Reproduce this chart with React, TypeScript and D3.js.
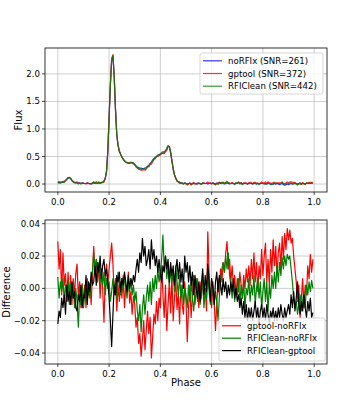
import React from "react";
import * as d3 from "d3";

// profile values, one per phase bin (200 bins over 0..1)
const noRFIx = [
  0.02, 0.03, 0.02, 0.03, 0.03, 0.04, 0.06, 0.09, 0.11, 0.12,
  0.10, 0.07, 0.04, 0.03, 0.02, 0.03, 0.02, 0.02, 0.01, 0.02,
  0.02, 0.01, 0.01, 0.02, 0.01, 0.01, 0.00, 0.01, 0.02, 0.01,
  0.02, 0.01, 0.02, 0.02, 0.02, 0.03, 0.05, 0.10, 0.22, 0.60,
  1.20, 1.80, 2.25, 2.33, 1.95, 1.35, 0.90, 0.70, 0.60, 0.54,
  0.49, 0.45, 0.42, 0.40, 0.39, 0.38, 0.38, 0.39, 0.39, 0.38,
  0.36, 0.33, 0.31, 0.30, 0.29, 0.29, 0.28, 0.28, 0.29, 0.30,
  0.32, 0.34, 0.37, 0.40, 0.43, 0.46, 0.48, 0.50, 0.52, 0.53,
  0.54, 0.55, 0.56, 0.57, 0.59, 0.64, 0.69, 0.68, 0.58, 0.42,
  0.28, 0.17, 0.10, 0.06, 0.04, 0.03, 0.02, 0.02, 0.01, 0.02,
  0.01, 0.00, 0.01, 0.02, 0.00, 0.01, 0.02, 0.01, 0.00, 0.01,
  0.02, 0.01, 0.00, 0.01, 0.02, 0.01, 0.02, 0.00, 0.01, 0.02,
  0.01, 0.02, 0.01, 0.00, 0.02, 0.01, 0.03, 0.01, 0.02, 0.01,
  0.00, 0.01, 0.02, 0.01, 0.00, 0.01, 0.02, 0.01, 0.00, 0.02,
  0.01, 0.03, 0.01, 0.02, 0.00, 0.01, 0.02, 0.01, 0.00, 0.01,
  0.02, 0.01, 0.00, 0.01, 0.02, 0.00, 0.01, 0.00, 0.01, 0.02,
  0.01, 0.00, 0.01, 0.00, 0.02, 0.01, 0.00, -0.01, 0.00, 0.01,
  0.00, 0.01, 0.00, -0.01, 0.00, 0.01, -0.01, -0.02, -0.01, 0.00,
  -0.01, 0.00, 0.01, 0.00, 0.01, 0.02, 0.01, 0.00, 0.01, 0.02,
  0.01, 0.02, 0.01, 0.00, 0.02, 0.01, 0.02, 0.01, 0.02, 0.01,
];

const gptool = [
  0.05, 0.04, 0.04, 0.03, 0.05, 0.04, 0.07, 0.08, 0.12, 0.11,
  0.11, 0.06, 0.05, 0.03, 0.03, 0.04, 0.01, 0.02, 0.01, 0.02,
  0.01, 0.01, 0.00, 0.03, 0.01, 0.01, 0.00, 0.02, 0.04, 0.02,
  0.04, 0.01, 0.03, 0.01, 0.03, 0.03, 0.03, 0.11, 0.24, 0.60,
  1.21, 1.82, 2.28, 2.35, 1.95, 1.36, 0.89, 0.70, 0.59, 0.54,
  0.48, 0.46, 0.41, 0.40, 0.39, 0.39, 0.37, 0.39, 0.37, 0.37,
  0.35, 0.31, 0.29, 0.27, 0.26, 0.25, 0.25, 0.26, 0.25, 0.27,
  0.31, 0.31, 0.35, 0.36, 0.40, 0.44, 0.46, 0.49, 0.50, 0.52,
  0.53, 0.56, 0.56, 0.55, 0.59, 0.61, 0.68, 0.68, 0.56, 0.43,
  0.26, 0.16, 0.11, 0.05, 0.04, 0.01, 0.02, 0.01, 0.00, 0.02,
  0.00, -0.02, 0.00, 0.02, -0.02, 0.01, 0.03, 0.00, 0.00, 0.02,
  0.01, 0.01, 0.00, 0.02, 0.02, 0.01, 0.01, 0.04, 0.02, 0.02,
  0.00, 0.02, 0.00, -0.02, 0.01, 0.02, 0.03, 0.02, 0.02, 0.03,
  0.01, 0.03, 0.05, 0.02, 0.02, 0.01, 0.03, 0.01, 0.01, 0.02,
  0.02, 0.03, 0.02, 0.02, 0.00, 0.02, 0.02, 0.02, 0.00, 0.02,
  0.03, 0.03, 0.01, 0.03, 0.03, 0.02, 0.01, 0.01, 0.02, 0.04,
  0.02, 0.02, 0.04, 0.01, 0.04, 0.02, 0.02, 0.01, 0.03, 0.03,
  0.02, 0.02, 0.02, 0.02, 0.02, 0.04, 0.01, 0.01, 0.02, 0.04,
  0.02, 0.04, 0.04, 0.03, 0.03, 0.03, 0.01, -0.01, 0.01, 0.00,
  0.00, 0.03, 0.00, 0.00, 0.02, 0.02, 0.03, 0.03, 0.03, 0.03,
];

const rficlean = [
  0.03, 0.02, 0.02, 0.03, 0.04, 0.03, 0.06, 0.09, 0.11, 0.11,
  0.10, 0.06, 0.04, 0.02, 0.02, 0.02, 0.00, 0.02, 0.00, 0.02,
  0.01, 0.01, 0.01, 0.01, 0.01, 0.00, 0.01, 0.02, 0.04, 0.02,
  0.04, 0.02, 0.04, 0.02, 0.03, 0.03, 0.06, 0.10, 0.23, 0.60,
  1.20, 1.79, 2.25, 2.33, 1.95, 1.35, 0.89, 0.71, 0.60, 0.54,
  0.50, 0.45, 0.43, 0.40, 0.38, 0.38, 0.38, 0.40, 0.39, 0.38,
  0.35, 0.33, 0.30, 0.28, 0.28, 0.26, 0.27, 0.28, 0.27, 0.29,
  0.32, 0.33, 0.37, 0.39, 0.44, 0.46, 0.49, 0.50, 0.53, 0.53,
  0.55, 0.57, 0.59, 0.58, 0.61, 0.65, 0.70, 0.68, 0.59, 0.42,
  0.29, 0.17, 0.11, 0.06, 0.04, 0.04, 0.01, 0.02, 0.00, 0.02,
  0.01, -0.01, 0.01, 0.01, 0.00, 0.00, 0.01, 0.01, 0.01, 0.00,
  0.02, 0.00, 0.00, 0.02, 0.01, 0.01, 0.01, 0.01, 0.01, 0.01,
  0.01, 0.02, 0.00, 0.00, 0.01, -0.01, 0.02, 0.02, 0.03, 0.03,
  0.01, 0.03, 0.03, 0.03, 0.01, 0.01, 0.01, 0.01, -0.01, 0.02,
  0.01, 0.04, 0.00, 0.02, -0.01, 0.01, 0.01, 0.01, 0.00, 0.02,
  0.01, 0.01, 0.00, 0.02, 0.01, 0.00, 0.02, -0.01, 0.01, 0.01,
  0.01, 0.01, 0.00, 0.00, 0.01, 0.01, -0.01, 0.00, 0.00, 0.02,
  0.00, 0.02, 0.01, 0.01, 0.01, 0.03, 0.00, 0.00, 0.01, 0.02,
  0.01, 0.02, 0.02, 0.00, 0.00, 0.01, 0.00, -0.02, 0.00, 0.02,
  -0.01, 0.01, 0.01, -0.01, 0.02, 0.01, 0.02, 0.01, 0.02, 0.01,
];

// differences, same bins
const gptoolMinusNoRFIx = [
  0.029, 0.012, 0.024, -0.004, 0.022, 0.002, 0.009, -0.008, 0.010, -0.005,
  0.008, -0.010, 0.006, -0.004, 0.009, 0.015, -0.006, 0.004, -0.012, 0.003,
  -0.008, 0.002, -0.012, 0.006, -0.004, 0.003, -0.010, 0.008, 0.026, 0.010,
  0.018, 0.004, 0.014, -0.006, 0.010, 0.000, -0.021, 0.006, 0.015, 0.003,
  0.012, 0.020, 0.028, 0.015, -0.004, 0.006, -0.014, 0.002, -0.008, 0.004,
  -0.006, 0.008, -0.012, 0.002, -0.003, 0.010, -0.009, -0.002, -0.016, -0.005,
  -0.010, -0.024, -0.018, -0.034, -0.028, -0.042, -0.032, -0.020, -0.038, -0.026,
  -0.014, -0.028, -0.018, -0.043, -0.030, -0.016, -0.022, -0.008, -0.020, -0.006,
  -0.012, 0.014, -0.004, -0.018, 0.002, -0.026, -0.010, 0.004, -0.015, 0.008,
  -0.020, -0.006, 0.006, -0.013, -0.003, -0.022, 0.002, -0.010, -0.016, 0.004,
  -0.008, -0.033, -0.012, 0.002, -0.018, -0.004, 0.008, -0.010, -0.002, 0.006,
  -0.012, 0.004, -0.006, 0.010, -0.002, 0.000, -0.014, 0.035, 0.010, -0.004,
  -0.012, 0.002, -0.008, -0.026, -0.010, 0.006, -0.004, 0.012, 0.004, 0.016,
  0.010, 0.022, 0.029, 0.012, 0.018, 0.004, 0.014, 0.000, 0.008, -0.004,
  0.006, -0.002, 0.010, 0.002, -0.006, 0.008, 0.000, 0.012, 0.004, 0.014,
  0.002, 0.018, 0.006, 0.022, 0.004, 0.016, -0.002, 0.014, 0.006, 0.024,
  0.008, 0.020, 0.028, 0.004, 0.018, 0.002, 0.024, 0.010, 0.030, 0.014,
  0.026, 0.008, 0.022, 0.028, 0.012, 0.032, 0.018, 0.034, 0.024, 0.037,
  0.030, 0.036, 0.028, 0.031, 0.020, 0.012, 0.004, -0.008, 0.002, -0.018,
  -0.006, 0.006, -0.012, 0.002, -0.004, 0.014, 0.006, 0.021, 0.010, 0.018,
];

const rficleanMinusNoRFIx = [
  0.007, -0.006, 0.004, -0.002, 0.006, -0.008, 0.002, -0.004, 0.005, -0.010,
  0.003, -0.006, 0.004, -0.012, 0.000, -0.008, -0.024, -0.004, -0.010, 0.002,
  -0.012, -0.004, 0.004, -0.008, 0.002, -0.006, 0.006, 0.010, 0.022, 0.012,
  0.018, 0.008, 0.016, 0.004, 0.012, 0.002, 0.010, -0.004, 0.006, 0.000,
  0.004, -0.008, -0.002, 0.006, 0.000, 0.004, -0.006, 0.010, 0.002, -0.004,
  0.006, -0.002, 0.008, 0.000, -0.006, 0.004, -0.002, 0.006, -0.004, 0.002,
  -0.008, -0.002, -0.014, -0.020, -0.010, -0.027, -0.012, -0.004, -0.016, -0.006,
  0.002, -0.008, 0.004, -0.010, 0.006, -0.002, 0.008, 0.000, 0.012, 0.004,
  0.010, 0.018, 0.033, 0.012, 0.020, 0.006, 0.014, 0.002, 0.012, 0.004,
  0.010, -0.002, 0.014, 0.004, -0.004, 0.008, -0.006, 0.002, -0.010, 0.000,
  -0.004, -0.012, 0.002, -0.008, 0.004, -0.006, -0.014, -0.002, 0.006, -0.008,
  0.002, -0.010, -0.004, 0.006, -0.012, 0.000, -0.006, 0.008, -0.002, -0.010,
  -0.004, 0.004, -0.010, -0.002, -0.008, -0.020, -0.006, 0.006, 0.012, 0.016,
  0.010, 0.020, 0.012, 0.022, 0.008, 0.002, -0.006, 0.004, -0.008, 0.000,
  -0.004, 0.006, -0.010, 0.002, -0.006, 0.004, -0.012, 0.000, -0.004, 0.006,
  -0.008, 0.002, -0.004, 0.008, -0.010, 0.000, 0.006, -0.006, 0.004, -0.012,
  -0.002, 0.006, -0.008, 0.004, -0.014, 0.002, -0.006, 0.008, 0.000, 0.010,
  0.000, 0.014, 0.004, 0.016, 0.008, 0.019, 0.012, 0.020, 0.014, 0.021,
  0.018, 0.020, 0.012, 0.004, -0.006, -0.012, -0.008, -0.016, -0.010, -0.004,
  -0.014, -0.008, -0.002, -0.012, 0.002, -0.004, 0.004, -0.002, 0.005, 0.000,
];

const rficleanMinusGptool = [
  -0.022, -0.014, -0.018, -0.006, -0.012, -0.004, -0.016, 0.002, -0.008, -0.002,
  -0.010, 0.004, -0.006, -0.002, -0.012, -0.014, -0.004, -0.008, 0.002, -0.012,
  -0.004, -0.006, 0.008, -0.010, 0.004, -0.002, 0.010, 0.002, 0.004, 0.014,
  0.002, 0.016, 0.010, 0.020, 0.006, 0.014, 0.018, 0.008, 0.012, 0.004,
  -0.006, -0.020, -0.036, -0.016, 0.002, -0.004, 0.008, 0.004, 0.010, -0.002,
  0.006, 0.002, 0.010, 0.004, -0.002, 0.008, 0.000, 0.006, 0.002, 0.008,
  0.004, 0.012, 0.018, 0.010, 0.022, 0.016, 0.031, 0.020, 0.026, 0.014,
  0.018, 0.024, 0.012, 0.030, 0.018, 0.024, 0.014, 0.020, 0.010, 0.018,
  0.008, 0.004, 0.014, 0.010, 0.020, 0.012, 0.018, 0.004, 0.016, 0.008,
  0.014, 0.002, 0.012, 0.018, 0.006, 0.016, 0.004, 0.012, 0.000, 0.020,
  0.010, 0.016, 0.004, 0.014, 0.002, 0.010, -0.004, 0.008, 0.000, -0.006,
  0.004, -0.008, 0.002, 0.012, -0.004, 0.008, -0.002, 0.015, 0.004, -0.008,
  0.006, 0.000, -0.010, 0.004, 0.010, -0.002, 0.008, 0.002, -0.004, 0.006,
  -0.002, 0.004, -0.006, 0.002, -0.004, 0.004, -0.002, 0.006, -0.006, 0.000,
  -0.008, -0.004, -0.012, -0.006, -0.016, -0.008, -0.018, -0.010, -0.020, -0.012,
  -0.018, -0.012, -0.020, -0.014, -0.008, -0.018, -0.012, -0.022, -0.014, -0.010,
  -0.018, -0.012, -0.020, -0.010, -0.016, -0.022, -0.014, -0.018, -0.012, -0.020,
  -0.014, -0.020, -0.012, -0.018, -0.010, -0.016, -0.020, -0.012, -0.018, -0.014,
  -0.010, -0.016, -0.004, -0.012, -0.002, -0.014, -0.006, 0.004, -0.010, -0.016,
  -0.008, -0.014, -0.004, -0.012, -0.018, -0.008, -0.014, -0.006, -0.018, -0.015,
];

const phaseTicks = [0, 0.2, 0.4, 0.6, 0.8, 1.0];
const fluxTicks = [0, 0.5, 1.0, 1.5, 2.0];
const diffTicks = [-0.04, -0.02, 0, 0.02, 0.04];

const topSeries = [
  { name: "noRFIx (SNR=261)", values: noRFIx, color: "#0000ff" },
  { name: "gptool (SNR=372)", values: gptool, color: "#ff0000" },
  { name: "RFIClean (SNR=442)", values: rficlean, color: "#008000" },
];
const bottomSeries = [
  { name: "gptool-noRFIx", values: gptoolMinusNoRFIx, color: "#ff0000" },
  { name: "RFIClean-noRFIx", values: rficleanMinusNoRFIx, color: "#008000" },
  { name: "RFIClean-gptool", values: rficleanMinusGptool, color: "#000000" },
];

const W = 363;
const H = 409;
const left = 45;
const right = 327;
const font = "DejaVu Sans, sans-serif";
const tickSize = 8.6;

const nBins = noRFIx.length;
const phase = d3.range(nBins).map((i) => i / nBins);

const x = d3.scaleLinear().domain([-0.05, 1.05]).range([left, right]);

function Panel({ top, bottom, yDomain, yTicks, yFormat, series, opacity, ylabel, ylabelX, legend }) {
  const y = d3.scaleLinear().domain(yDomain).range([bottom, top]);
  const line = d3
    .line<number>()
    .x((d, i) => x(phase[i]))
    .y((d) => y(d));
  const clipId = `clip-${top}`;
  return (
    <g>
      <defs>
        <clipPath id={clipId}>
          <rect x={left} y={top} width={right - left} height={bottom - top} />
        </clipPath>
      </defs>
      {phaseTicks.map((t) => (
        <line key={"gx" + t} x1={x(t)} x2={x(t)} y1={top} y2={bottom} stroke="#b0b0b0" strokeWidth={0.8} opacity={0.75} />
      ))}
      {yTicks.map((t) => (
        <line key={"gy" + t} x1={left} x2={right} y1={y(t)} y2={y(t)} stroke="#b0b0b0" strokeWidth={0.8} opacity={0.75} />
      ))}
      <g clipPath={`url(#${clipId})`}>
        {series.map((s) => (
          <path key={s.name} d={line(s.values)} fill="none" stroke={s.color} strokeWidth={1.2} opacity={opacity} strokeLinejoin="round" />
        ))}
      </g>
      <rect x={left} y={top} width={right - left} height={bottom - top} fill="none" stroke="#000" strokeWidth={0.8} />
      {phaseTicks.map((t) => (
        <g key={"tx" + t}>
          <line x1={x(t)} x2={x(t)} y1={bottom} y2={bottom + 3} stroke="#000" strokeWidth={0.7} />
          <text x={x(t)} y={bottom + 12.5} fontSize={tickSize} textAnchor="middle" fontFamily={font}>
            {t.toFixed(1)}
          </text>
        </g>
      ))}
      {yTicks.map((t) => (
        <g key={"ty" + t}>
          <line x1={left - 3} x2={left} y1={y(t)} y2={y(t)} stroke="#000" strokeWidth={0.7} />
          <text x={left - 5} y={y(t) + 3} fontSize={tickSize} textAnchor="end" fontFamily={font}>
            {yFormat(t)}
          </text>
        </g>
      ))}
      <text
        transform={`translate(${ylabelX},${(top + bottom) / 2}) rotate(-90)`}
        fontSize={10}
        textAnchor="middle"
        fontFamily={font}
      >
        {ylabel}
      </text>
      <g>
        <rect
          x={legend.x}
          y={legend.y}
          width={legend.w}
          height={legend.h}
          rx={2}
          fill="#fff"
          fillOpacity={0.8}
          stroke="#cccccc"
          strokeWidth={0.8}
        />
        {series.map((s, i) => {
          const ry = legend.y + 7.8 + i * legend.step;
          return (
            <g key={"lg" + s.name}>
              <line x1={legend.x + 3} x2={legend.x + 22} y1={ry} y2={ry} stroke={s.color} strokeWidth={1.2} opacity={opacity} />
              <text x={legend.x + 28} y={ry + 3} fontSize={tickSize} fontFamily={font}>
                {s.name}
              </text>
            </g>
          );
        })}
      </g>
    </g>
  );
}

export default function App() {
  const fluxFmt = (t) => t.toFixed(1);
  const diffFmt = (t) => (t < 0 ? "\u2212" : "") + Math.abs(t).toFixed(2);
  return (
    <svg
      width={W}
      height={H}
      style={{ position: "absolute", left: 0, top: 0, background: "#fff" }}
    >
      <Panel
        top={48}
        bottom={192}
        yDomain={[-0.1445, 2.47]}
        yTicks={fluxTicks}
        yFormat={fluxFmt}
        series={topSeries}
        opacity={0.8}
        ylabel="Flux"
        ylabelX={22}
        legend={{ x: 200, y: 53, w: 123, h: 41, step: 12.7 }}
      />
      <Panel
        top={220}
        bottom={364}
        yDomain={[-0.0468, 0.0423]}
        yTicks={diffTicks}
        yFormat={diffFmt}
        series={bottomSeries}
        opacity={1}
        ylabel="Difference"
        ylabelX={9.5}
        legend={{ x: 219, y: 318, w: 106, h: 43, step: 12.4 }}
      />
      <text x={(left + right) / 2} y={386} fontSize={10} textAnchor="middle" fontFamily={font}>
        Phase
      </text>
    </svg>
  );
}
